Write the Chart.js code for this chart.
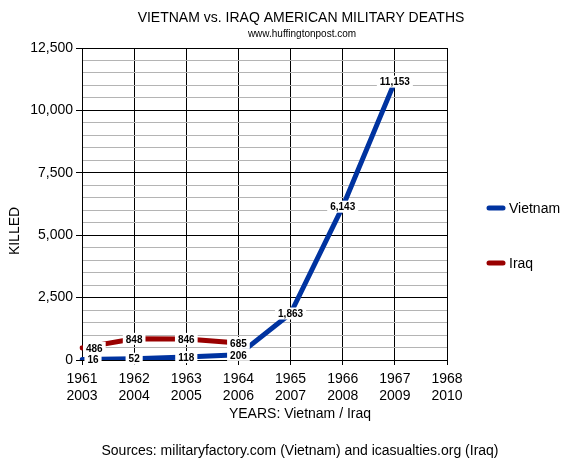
<!DOCTYPE html>
<html>
<head>
<meta charset="utf-8">
<script src="https://cdn.jsdelivr.net/npm/chart.js@4"></script>
<style>
html, body { margin: 0; padding: 0; background: #fff; }
</style>
</head>
<body>
<canvas id="chartMuertes" width="564" height="463"></canvas>
<script>
// Datos del gráfico
const vietnamYears = ['1961', '1962', '1963', '1964', '1965', '1966', '1967', '1968'];
const iraqYears = ['2003', '2004', '2005', '2006', '2007', '2008', '2009', '2010'];
const vietnamDeaths = [16, 52, 118, 206, 1863, 6143, 11153, null];
const iraqDeaths = [486, 848, 846, 685];

const blue = '#0033a0';
const red = '#990000';
const fontFamily = '"Liberation Sans", Arial, sans-serif';

Chart.defaults.font.family = fontFamily;
Chart.defaults.color = '#000';

// Etiquetas blancas sobre cada punto
const etiquetas = {
    id: 'etiquetas',
    afterDatasetsDraw(chart) {
        const { ctx, chartArea } = chart;
        ctx.save();
        ctx.font = 'bold 10px ' + fontFamily;
        ctx.textAlign = 'center';
        ctx.textBaseline = 'middle';
        chart.data.datasets.forEach((ds, i) => {
            chart.getDatasetMeta(i).data.forEach((pt, j) => {
                const v = ds.data[j];
                if (v == null) return;
                const txt = v.toLocaleString('en-US');
                const w = ctx.measureText(txt).width + 6;
                const half = Math.max(w / 2, 10);
                let x = Math.max(pt.x, chartArea.left + 1 + half);
                ctx.fillStyle = '#fff';
                ctx.fillRect(x - w / 2, pt.y - 6, w, 12);
                ctx.fillStyle = '#000';
                ctx.fillText(txt, x, pt.y + 1);
            });
        });
        ctx.restore();
    }
};

// Títulos, ejes, fuentes y leyenda
const textos = {
    id: 'textos',
    afterDraw(chart) {
        const { ctx, chartArea } = chart;
        ctx.save();
        ctx.fillStyle = '#000';
        ctx.textAlign = 'center';
        ctx.textBaseline = 'middle';
        ctx.font = '14px ' + fontFamily;
        ctx.fillText('VIETNAM vs. IRAQ AMERICAN MILITARY DEATHS', 301, 18);
        ctx.fillText('YEARS: Vietnam / Iraq', 300, 414);
        ctx.fillText('Sources: militaryfactory.com (Vietnam) and icasualties.org (Iraq)', 300, 451);
        ctx.font = '10px ' + fontFamily;
        ctx.fillText('www.huffingtonpost.com', 302, 34);

        ctx.font = '14px ' + fontFamily;
        ctx.save();
        ctx.translate(15, 231);
        ctx.rotate(-Math.PI / 2);
        ctx.fillText('KILLED', 0, 0);
        ctx.restore();

        const items = [['Vietnam', blue, 208], ['Iraq', red, 263]];
        const x0 = chartArea.right + 42;
        items.forEach(([name, color, y]) => {
            ctx.strokeStyle = color;
            ctx.lineWidth = 5;
            ctx.lineCap = 'round';
            ctx.beginPath();
            ctx.moveTo(x0, y);
            ctx.lineTo(x0 + 14, y);
            ctx.stroke();
            ctx.textAlign = 'left';
            ctx.fillText(name, x0 + 20, y + 1);
        });
        ctx.restore();
    }
};

new Chart(document.getElementById('chartMuertes').getContext('2d'), {
    type: 'line',
    data: {
        labels: vietnamYears.map((y, i) => [y, iraqYears[i]]),
        datasets: [{
            label: 'Vietnam',
            data: vietnamDeaths,
            borderColor: blue,
            backgroundColor: blue,
            borderWidth: 5,
            pointRadius: 0,
            borderCapStyle: 'round',
            borderJoinStyle: 'round'
        }, {
            label: 'Iraq',
            data: iraqDeaths,
            borderColor: red,
            backgroundColor: red,
            borderWidth: 5,
            pointRadius: 0,
            borderCapStyle: 'round',
            borderJoinStyle: 'round'
        }]
    },
    options: {
        responsive: false,
        animation: false,
        layout: {
            padding: { top: 48, right: 117, bottom: 0, left: 0 }
        },
        plugins: {
            legend: { display: false },
            tooltip: { enabled: false }
        },
        scales: {
            x: {
                offset: false,
                ticks: { font: { size: 14 }, padding: 6, maxRotation: 0, autoSkip: false },
                grid: { color: '#000', tickColor: '#000', tickLength: 5, offset: false },
                border: { color: '#000' },
                afterFit: s => { s.height = 103; }
            },
            y: {
                min: 0,
                max: 12500,
                ticks: {
                    stepSize: 500,
                    autoSkip: false,
                    maxTicksLimit: 30,
                    font: { size: 14 },
                    padding: 3,
                    callback: v => v % 2500 === 0 ? v.toLocaleString('en-US') : ''
                },
                grid: {
                    color: c => c.tick && c.tick.value % 2500 === 0 ? '#000' : '#b4b4b4',
                    tickColor: c => c.tick && c.tick.value % 2500 === 0 ? '#000' : 'rgba(0,0,0,0)',
                    tickLength: 6
                },
                border: { color: '#000' },
                afterFit: s => { s.width = 82; }
            }
        }
    },
    plugins: [etiquetas, textos]
});
</script>
</body>
</html>
